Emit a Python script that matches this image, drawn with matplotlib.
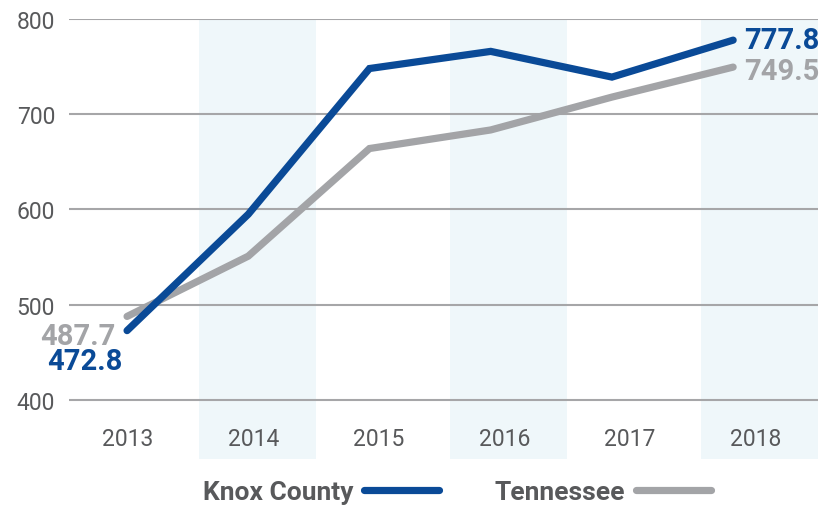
import matplotlib.pyplot as plt
from matplotlib.lines import Line2D

years = ['2013', '2014', '2015', '2016', '2017', '2018']
knox = [472.8, 595, 748, 766, 739, 777.8]
tennessee = [487.7, 551, 664, 683.5, 718, 749.5]

BLUE = '#0a4a97'
GRAY = '#a3a4a7'
TEXT = '#58595b'
BAND = '#eff7fa'

plt.rcParams['font.family'] = ['Roboto', 'DejaVu Sans']

fig = plt.figure(figsize=(8.36, 5.06), dpi=100)
ax = fig.add_axes([69 / 836, 46 / 506, 749 / 836, 440 / 506])

# category columns with alternating shaded bands
ax.set_xlim(-0.47, 5.5)
ax.set_ylim(338, 800)
for i in range(1, len(years), 2):
    ax.axvspan(i - 0.43, i + 0.5, color=BAND, lw=0, zorder=0)

for y in [400, 500, 600, 700, 800]:
    ax.axhline(y, color='#a6a6a8', lw=1.5, zorder=1)

ax.set_xticks(range(len(years)))
ax.set_xticklabels(years)
ax.set_yticks([400, 500, 600, 700, 800])
ax.tick_params(length=0, labelsize=16.5, colors=TEXT, pad=10)
# year labels sit inside the plot, below the 400 line
ax.tick_params(axis='x', pad=-23)
for s in ax.spines.values():
    s.set_visible(False)

# lines on their own x scale
lx = ax.twiny()
lx.set_xlim(-0.479, 5.70)
lx.set_ylim(ax.get_ylim())
lx.axis('off')
xs = range(len(years))
lx.plot(xs, tennessee, color=GRAY, lw=5.2, solid_capstyle='round', solid_joinstyle='miter', zorder=3)
lx.plot(xs, knox, color=BLUE, lw=5.2, solid_capstyle='round', solid_joinstyle='miter', zorder=4)

lx.annotate(f'{knox[-1]}', (5, knox[-1]), xytext=(8, 0), textcoords='offset points',
            color=BLUE, fontsize=21, fontweight='bold', va='center', ha='left')
lx.annotate(f'{tennessee[-1]}', (5, tennessee[-1]), xytext=(8, -3), textcoords='offset points',
            color=GRAY, fontsize=21, fontweight='bold', va='center', ha='left')
lx.annotate(f'{tennessee[0]}', (0, tennessee[0]), xytext=(-8, -14), textcoords='offset points',
            color=GRAY, fontsize=21, fontweight='bold', va='center', ha='right')
lx.annotate(f'{knox[0]}', (0, knox[0]), xytext=(-3, -22), textcoords='offset points',
            color=BLUE, fontsize=21, fontweight='bold', va='center', ha='right')

handles = [Line2D([], [], color=BLUE, lw=5.2, solid_capstyle='round'),
           Line2D([], [], color=GRAY, lw=5.2, solid_capstyle='round')]
leg = fig.legend(handles, ['Knox County', 'Tennessee'], loc='center', bbox_to_anchor=(457 / 836, 1 - 493 / 506),
                 ncol=2, frameon=False, markerfirst=False, handlelength=2.85, handletextpad=0.4,
                 columnspacing=2.1, prop={'size': 19, 'weight': 'bold'})
for t in leg.get_texts():
    t.set_color(TEXT)

fig.savefig('out.png', dpi=100)
